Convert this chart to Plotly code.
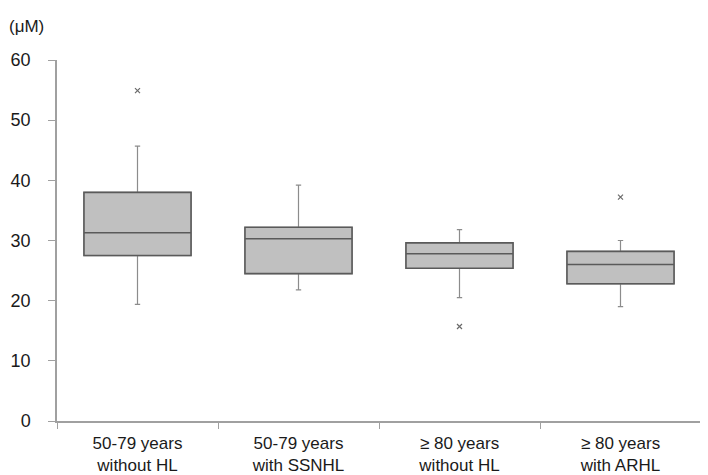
import plotly.graph_objects as go

categories = ["50-79 years<br>without HL", "50-79 years<br>with SSNHL",
              "≥ 80 years<br>without HL", "≥ 80 years<br>with ARHL"]
lower_whisker = [19.4, 21.8, 20.5, 19.0]
q1 = [27.5, 24.5, 25.4, 22.8]
median = [31.3, 30.3, 27.8, 26.0]
q3 = [38.0, 32.2, 29.6, 28.2]
upper_whisker = [45.7, 39.2, 31.8, 30.0]
outlier_x = [categories[0], categories[2], categories[3]]
outlier_y = [54.9, 15.7, 37.2]
y_ticks = [0, 10, 20, 30, 40, 50, 60]

FONT = "Liberation Sans, Arial, sans-serif"

# page body has an 8px margin; the figure is sized to fill the rest of the window
W, H = 700, 467
ML, MR, MT, MB = 49, 7, 52, 54
PW, PH = W - ML - MR, H - MT - MB

fig = go.Figure()
# whiskers (light grey)
fig.add_trace(go.Box(
    x=categories, q1=q1, median=median, q3=q3,
    lowerfence=lower_whisker, upperfence=upper_whisker,
    fillcolor="#c0c0c0", line=dict(color="#8c8c8c", width=1.2),
    width=0.665, whiskerwidth=0.05, hoverinfo="skip", showlegend=False,
))
# box body (dark outline)
fig.add_trace(go.Box(
    x=categories, q1=q1, median=median, q3=q3,
    lowerfence=q1, upperfence=q3,
    fillcolor="#c0c0c0", line=dict(color="#5a5a5a", width=1.6),
    width=0.665, whiskerwidth=0, showlegend=False,
))
fig.add_trace(go.Scatter(
    x=outlier_x, y=outlier_y, mode="markers",
    marker=dict(symbol="x-thin", size=5, line=dict(color="#6a6a6a", width=1.2)),
    showlegend=False,
))

fig.update_layout(
    width=W, height=H,
    margin=dict(l=ML, r=MR, t=MT, b=MB),
    paper_bgcolor="white", plot_bgcolor="white",
    boxmode="overlay",
    font=dict(family=FONT, size=17, color="#1a1a1a"),
)
fig.add_annotation(text="(μM)", xref="paper", yref="paper",
                   x=-50 / PW, y=1 + 34 / PH,
                   xanchor="left", yanchor="middle", showarrow=False,
                   font=dict(family=FONT, size=17, color="#1a1a1a"))
fig.update_yaxes(
    range=[0, 60], tickvals=y_ticks, showgrid=False, zeroline=False,
    showline=True, linecolor="#a0a0a0", linewidth=1.5,
    ticks="outside", ticklen=7, tickcolor="#a0a0a0", tickwidth=1.2,
    ticklabelstandoff=14, automargin=False,
    tickfont=dict(family=FONT, size=18, color="#1a1a1a"),
)
fig.update_xaxes(
    type="category", range=[-0.5, 3.5], showgrid=False, zeroline=False,
    showline=True, linecolor="#a0a0a0", linewidth=1.5,
    ticks="outside", ticklen=6, tickcolor="#a0a0a0", tickwidth=1.2,
    tickson="boundaries", ticklabelstandoff=6, automargin=False,
    tickfont=dict(family=FONT, size=17, color="#1a1a1a"),
)

fig.write_html("out.html")
